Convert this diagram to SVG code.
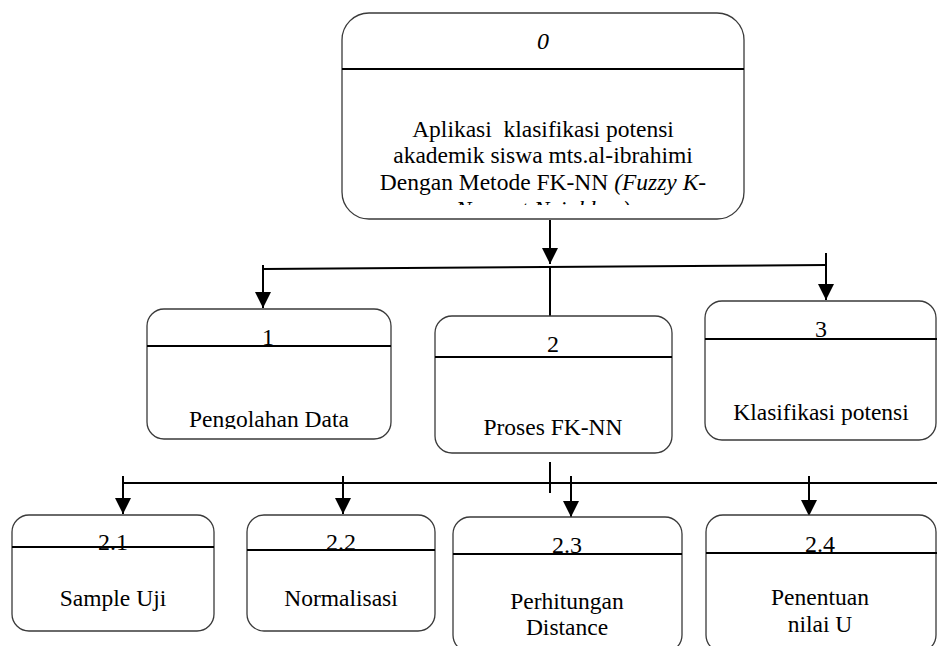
<svg xmlns="http://www.w3.org/2000/svg" width="937" height="646" viewBox="0 0 937 646">
  <style>
    .box { fill: #ffffff; stroke: #3a3a3a; stroke-width: 1.3; }
    .div { stroke: #000000; stroke-width: 2.2; }
    .wire { stroke: #000000; stroke-width: 2; fill: none; }
    text { font-family: "Liberation Serif", "Times New Roman", serif; fill: #000000; text-anchor: middle; }
    .t { font-size: 23.5px; }
    .n { font-size: 24px; }
    .i { font-style: italic; }
  </style>
  <defs>
    <marker id="arrow" markerUnits="userSpaceOnUse" markerWidth="18" markerHeight="16" viewBox="0 0 18 16" refX="16" refY="8" orient="auto">
      <path d="M0,0 L16,8 L0,16 Z" fill="#000000"/>
    </marker>
    <clipPath id="clip0"><rect x="342" y="70" width="402" height="135"/></clipPath>
    <clipPath id="clip1"><rect x="147" y="347" width="244" height="82"/></clipPath>
  </defs>

  <rect width="937" height="646" fill="#ffffff"/>

  <!-- connectors -->
  <g id="connectors">
    <line class="wire" x1="550" y1="220" x2="550" y2="264" marker-end="url(#arrow)"/>
    <line class="wire" x1="550" y1="267" x2="550" y2="316" stroke-width="1.6"/>
    <line class="wire" x1="263" y1="269" x2="826" y2="265"/>
    <line class="wire" x1="263" y1="265" x2="263" y2="308" marker-end="url(#arrow)"/>
    <line class="wire" x1="826" y1="253" x2="826" y2="300" marker-end="url(#arrow)"/>

    <line class="wire" x1="550" y1="462" x2="550" y2="493" stroke-width="1.6"/>
    <line class="wire" x1="123" y1="483" x2="937" y2="483"/>
    <line class="wire" x1="123" y1="476" x2="123" y2="514" marker-end="url(#arrow)"/>
    <line class="wire" x1="343" y1="476" x2="343" y2="514" marker-end="url(#arrow)"/>
    <line class="wire" x1="571" y1="476" x2="571" y2="517" marker-end="url(#arrow)"/>
    <line class="wire" x1="809" y1="476" x2="809" y2="516" marker-end="url(#arrow)"/>
  </g>

  <!-- process 0 -->
  <g id="node-0">
    <rect class="box" x="342" y="13" width="402" height="206" rx="27" ry="27"/>
    <text class="n i" x="543" y="49">0</text>
    <line class="div" x1="342" y1="69" x2="744" y2="69"/>
    <g clip-path="url(#clip0)">
      <text class="t" x="543" y="137" xml:space="preserve">Aplikasi  klasifikasi potensi</text>
      <text class="t" x="543" y="163">akademik siswa mts.al-ibrahimi</text>
      <text class="t" x="543" y="190">Dengan Metode FK-NN <tspan class="i">(Fuzzy K-</tspan></text>
      <text class="t i" x="543" y="217">Nearest Neighbor)</text>
    </g>
  </g>

  <!-- process 1 -->
  <g id="node-1">
    <rect class="box" x="147" y="309" width="244" height="130" rx="17" ry="17"/>
    <text class="n" x="268" y="345">1</text>
    <line class="div" x1="147" y1="346" x2="391" y2="346"/>
    <g clip-path="url(#clip1)">
      <text class="t" x="269" y="427">Pengolahan Data</text>
    </g>
  </g>

  <!-- process 2 -->
  <g id="node-2">
    <rect class="box" x="435" y="316" width="237" height="137" rx="17" ry="17"/>
    <text class="n" x="553" y="352">2</text>
    <line class="div" x1="435" y1="357" x2="672" y2="357"/>
    <text class="t" x="553" y="435">Proses FK-NN</text>
  </g>

  <!-- process 3 -->
  <g id="node-3">
    <rect class="box" x="705" y="301" width="231" height="139" rx="17" ry="17"/>
    <text class="n" x="821" y="337">3</text>
    <line class="div" x1="705" y1="339" x2="937" y2="339"/>
    <text class="t" x="821" y="420">Klasifikasi potensi</text>
  </g>

  <!-- process 2.1 -->
  <g id="node-2-1">
    <rect class="box" x="12" y="515" width="202" height="116" rx="17" ry="17"/>
    <text class="n" x="113" y="550">2.1</text>
    <line class="div" x1="12" y1="547" x2="214" y2="547"/>
    <text class="t" x="113" y="606">Sample Uji</text>
  </g>

  <!-- process 2.2 -->
  <g id="node-2-2">
    <rect class="box" x="247" y="515" width="188" height="116" rx="17" ry="17"/>
    <text class="n" x="341" y="550">2.2</text>
    <line class="div" x1="247" y1="550" x2="435" y2="550"/>
    <text class="t" x="341" y="606">Normalisasi</text>
  </g>

  <!-- process 2.3 -->
  <g id="node-2-3">
    <rect class="box" x="453" y="517" width="229" height="135" rx="17" ry="17"/>
    <text class="n" x="567" y="553">2.3</text>
    <line class="div" x1="453" y1="554" x2="682" y2="554"/>
    <text class="t" x="567" y="609">Perhitungan</text>
    <text class="t" x="567" y="635">Distance</text>
  </g>

  <!-- process 2.4 -->
  <g id="node-2-4">
    <rect class="box" x="706" y="515" width="230" height="137" rx="17" ry="17"/>
    <text class="n" x="820" y="552">2.4</text>
    <line class="div" x1="706" y1="553" x2="937" y2="553"/>
    <text class="t" x="820" y="605">Penentuan</text>
    <text class="t" x="820" y="632">nilai U</text>
  </g>
</svg>
